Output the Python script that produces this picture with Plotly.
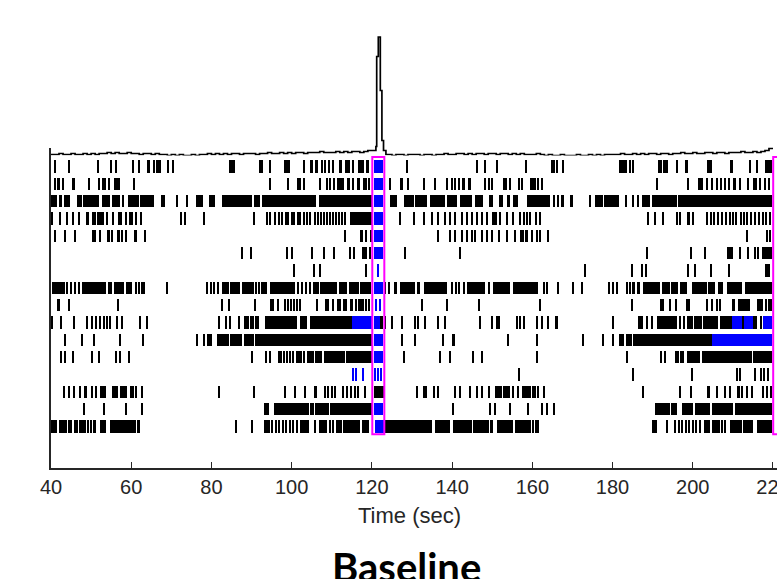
import plotly.graph_objects as go

# ---------------- raster data (seconds); number = single spike, (a, b) = burst ----------------
row01 = [41.1, 44.6, 51.7, 55.0, 56.3, 60.4, 62.0, (64.0, 64.6), 65.6, (66.3, 67.4), 69.2, 70.3,
         (84.3, 85.8), (91.9, 92.8), 94.7, (98.0, 99.5), 103.0, (104.6, 105.3), (105.9, 106.5), 107.6,
         108.4, 109.2, (110.1, 110.6), (111.7, 112.5), (113.4, 114.6), 115.4, 116.7, 117.3, 117.9,
         (118.6, 119.2), 128.7, 146.2, 148.2, 151.3, 158.4, (164.6, 165.7), 166.1, (167.4, 168.0),
         (181.5, 183.6), 184.4, 185.2, (191.4, 192.3), (192.7, 193.9), 196.0, (198.1, 198.9),
         (203.5, 204.7), (209.3, 210.1), 214.2, 216.1, (218.0, 219.7)]
row02 = [41.1, 41.9, 43.0, (45.3, 45.9), 49.4, 51.9, (52.8, 53.6), 54.4, (55.8, 57.1), 60.6, 94.7,
         99.2, (101.3, 102.3), 103.0, (106.7, 107.3), 108.8, 109.6, 110.5, (111.3, 112.5), 112.9,
         (113.8, 114.6), (115.0, 115.6), (116.4, 117.1), (117.8, 118.8), 119.2, 124.6, (127.1, 127.7),
         129.1, 132.9, 135.8, 138.7, 139.9, 140.8, 141.6, (142.4, 143.2), (144.0, 144.6), 148.2, 149.1,
         149.9, (152.7, 153.7), 154.5, 156.8, 157.4, (159.5, 160.3), 160.7, 161.5, 162.4, 191.0, 198.9,
         (201.4, 202.5), 203.5, 204.7, 206.0, 207.0, 208.0, 209.1, (210.0, 210.9), 211.8, 213.8,
         (215.1, 216.1), 216.8, 218.0, 219.1]
row03 = [(40.0, 41.4), (41.9, 42.8), (43.2, 44.7), (46.4, 47.8), (48.0, 51.9), (52.8, 54.8),
         (55.2, 57.3), (57.6, 58.3), (59.1, 61.9), (62.1, 65.6), (67.3, 68.5), 71.4, 73.9, (76.2, 77.9),
         (79.3, 81.0), (82.7, 90.1), (90.5, 92.2), (92.6, 106.1), (106.7, 120.0), (124.6, 126.2),
         (127.9, 130.4), (130.8, 133.7), (134.6, 138.3), (138.7, 141.2), (142.0, 144.9), (145.8, 147.8),
         (149.1, 150.3), (151.6, 152.8), (153.6, 154.5), (155.3, 156.5), (158.6, 164.3), 165.4, 166.5,
         167.6, (169.5, 170.1), 174.4, (175.6, 177.6), (177.8, 181.7), (183.1, 183.7), 185.2, 186.3,
         (187.3, 189.4), (189.8, 196.0), (196.4, 219.7)]
row04 = [40.3, 42.2, 43.9, 45.4, (46.9, 47.3), (48.6, 49.4), (50.3, 51.1), (51.5, 51.9), (52.2, 52.6),
         (52.8, 53.3), 54.0, 55.5, 56.9, 57.5, 58.8, 59.6, 60.2, (61.0, 61.5), 62.5, 72.4, 73.4, 78.1,
         90.5, 93.9, 94.6, (95.5, 96.2), (96.6, 97.2), 97.7, 98.5, 99.2, 100.0, 100.7, 101.5, 102.2,
         103.0, 103.7, 104.5, 105.9, 106.6, 107.4, 108.1, 108.9, 109.6, 110.4, 111.1, 111.9, 112.6,
         113.4, (114.6, 120.0), 127.1, 130.4, 132.9, 135.0, 136.6, 138.3, 139.5, 140.8, 142.4, 143.7,
         144.9, 146.2, 147.4, 148.7, (149.9, 151.2), 152.0, 153.7, 155.3, 157.0, 157.8, 158.6, 159.4,
         160.8, 162.0, 188.9, 190.6, 192.6, 196.0, 196.8, (198.5, 199.4), 200.0, 203.5, 204.5, 205.4,
         206.3, 207.2, 208.2, 209.2, 210.0, 210.9, 211.9, 212.8, 213.6, 214.6, 215.5, 216.5, 217.4,
         218.3, 219.2]
row05 = [41.1, 43.6, 46.1, (50.3, 51.1), 52.3, (54.0, 54.6), 55.2, (56.5, 57.1), 57.7, 58.6,
         (60.6, 61.5), 63.5, 113.4, (117.1, 117.8), (118.2, 118.8), (119.6, 120.0), 136.6, 139.5, 140.8,
         142.4, 143.7, 144.9, 145.8, 147.4, 148.7, 149.9, 151.6, 153.7, 155.7, (157.0, 157.8),
         (158.2, 159.0), 159.9, 161.1, 161.9, 164.0, 213.4, 218.4, 219.2]
row06 = [87.6, 89.9, 98.8, 100.1, 105.1, 108.0, 110.6, 114.6, 115.6, (117.5, 118.8), 119.6, 128.3,
         142.0, 188.5, 199.5, 203.0, (208.5, 210.1), 211.8, 213.8, 215.6, 216.3, (217.2, 219.7)]
row07 = [100.5, 105.5, 107.0, 118.6, 173.2, 184.8, 187.3, 188.3, 198.9, 200.6, 204.5, 209.1,
         (218.0, 219.2)]
row08 = [(40.3, 43.6), 44.1, 45.1, 46.1, 47.0, (47.8, 49.1), (49.3, 50.6), (50.8, 52.1), (52.3, 53.8),
         (54.3, 55.3), (55.6, 56.6), (56.8, 58.1), (58.6, 60.2), 61.3, 62.0, (62.5, 63.5), 68.8, 79.0,
         79.9, 80.7, 81.7, (82.7, 84.3), (84.7, 86.0), (86.2, 87.2), (87.6, 90.5), 91.0, 91.8, (92.4, 93.9),
         (94.7, 100.9), 101.7, 102.6, 103.6, 104.6, 105.5, (105.9, 106.7), (107.1, 111.3), (111.7, 113.8),
         (114.2, 116.7), (117.1, 119.7), 123.2, 124.3, (125.4, 126.2), (127.1, 130.8), (131.2, 132.0),
         (132.9, 138.7), 140.0, 140.9, 141.8, 142.9, (143.7, 148.2), 149.1, (150.3, 154.5),
         (155.3, 160.8), 161.2, 163.0, 163.6, 166.5, 170.2, 172.3, 179.2, 180.2, 181.0, 183.5, 184.3,
         (184.9, 185.6), (186.0, 186.8), (187.7, 191.8), (192.3, 194.2), (194.6, 196.4), (196.8, 198.5),
         (199.7, 203.5), (203.9, 205.6), (206.4, 207.6), (208.5, 212.2), (213.0, 219.7)]
row09 = [41.9, 44.4, 56.6, 82.7, 84.3, 90.9, (94.7, 95.5), 96.7, 98.4, 99.2, 99.9, 100.7, 101.4, 102.2,
         106.3, (108.4, 109.3), 110.3, (111.3, 112.4), (112.7, 113.8), (114.6, 115.4), 116.1, 116.7,
         117.3, 117.9, 118.6, 119.2, 132.5, 138.7, 146.6, 161.9, 184.8, 192.0, 192.6, 194.4, 195.7,
         198.5, 199.1, 203.5, 204.7, 206.0, 206.8, (209.7, 210.5), (211.4, 214.2), (215.9, 217.6),
         218.3, 219.0, 219.5]
row10 = [40.3, 42.5, 45.7, 49.0, 50.3, 51.3, 52.2, 53.1, 54.0, 54.8, (56.1, 56.8), 57.7, 62.3, 64.0,
         81.8, (83.5, 84.0), 84.6, 86.8, (88.0, 89.3), (89.7, 90.6), (90.9, 91.8), (93.4, 101.3),
         (102.2, 103.8), (104.6, 115.0), (122.0, 122.7), 123.3, 125.0, 127.5, 130.8, 131.6, 133.3, 136.6,
         138.3, 147.0, 149.9, (150.9, 152.0), 156.1, 157.0, 157.8, 161.1, 162.4, 163.9, (165.7, 166.5),
         180.2, (186.4, 187.7), 188.5, 189.9, (191.0, 196.0), 196.8, 197.7, (198.6, 200.1), (200.4, 202.2),
         (202.6, 206.4), (206.8, 209.7), 212.5, (215.1, 216.1), 216.9]
row11 = [43.4, 47.8, 50.7, 57.1, 62.9, 76.4, 78.1, (78.9, 80.2), (81.4, 84.3), (84.7, 87.6), (88.0, 90.5),
         (90.9, 120.0), 127.5, 130.8, 137.8, (139.9, 140.8), 154.0, 161.1, 172.7, 177.7, 180.2,
         (181.5, 182.9), (183.3, 184.8), (185.2, 204.7)]
row12 = [42.4, 43.6, 45.4, 50.3, 51.9, 56.1, 57.3, 59.4, 90.1, 93.6, 94.5, 96.8, 97.4, 98.2, 98.9, 99.6,
         100.4, (101.0, 102.6), 103.0, (103.8, 105.5), (105.9, 107.6), (108.0, 113.2), (113.5, 120.0),
         127.9, 137.1, 139.5, 145.3, 147.4, 161.1, 183.5, 192.1, 193.0, (195.6, 196.5), (196.8, 197.7),
         (198.5, 201.8), (202.2, 214.7), (215.1, 219.7)]
row13 = [156.7, 185.2, 199.7, 211.0, 211.8, 215.5, 216.9, 217.8, 218.8]
row14 = [43.2, 44.4, 45.7, 47.2, 48.6, 50.3, 51.2, (52.1, 53.6), (55.2, 56.8), (57.1, 59.0), (59.8, 60.6),
         61.1, 62.7, 81.8, 90.5, 98.4, 100.9, 103.4, (105.5, 106.3), 108.4, 109.1, 110.0, 110.9, 112.9,
         113.9, 114.9, 115.9, 116.6, 118.4, (120.5, 123.3), 131.2, 132.9, 133.6, 135.4, 136.6, 140.8,
         142.0, 144.5, 146.2, 147.4, 149.1, (150.7, 152.5), (152.8, 154.5), 155.3, 156.4, (157.4, 159.6),
         (159.9, 161.0), 161.5, 162.8, 187.7, 196.8, 199.5, (203.5, 204.3), 206.0, 208.0, 209.3, 211.4,
         212.2, 213.5, 214.8, 217.6, 218.6, 219.5]
row15 = [48.2, 53.2, 58.6, 62.7, (93.0, 94.3), (95.5, 104.2), (104.6, 105.5), (105.9, 109.2),
         (109.6, 120.0), 140.3, 149.5, 150.7, 154.5, 159.0, 162.4, 163.6, 165.3, (190.7, 192.5),
         (192.7, 194.2), (194.5, 196.0), (197.2, 200.1), (200.6, 204.3), (204.7, 210.1), (210.5, 219.7)]
row16 = [(40.0, 41.5), (41.9, 44.0), 44.5, 45.1, 45.9, 46.5, (46.9, 48.6), 49.2, 49.9, (50.4, 51.1),
         (52.3, 53.6), (54.6, 61.1), (61.5, 62.3), 86.0, 90.1, (93.0, 94.7), 95.2, 96.1, 96.9, 97.8, 98.7,
         99.5, 100.4, 101.3, (102.2, 104.2), 105.9, (106.8, 108.8), 109.6, 110.4, (111.1, 112.5),
         (112.9, 117.1), (117.5, 119.2), (123.3, 134.9), (135.8, 139.5), (140.3, 144.9), (145.3, 149.1),
         (149.5, 150.3), (151.2, 155.3), (155.7, 159.7), (160.0, 160.4), (160.7, 161.6), (189.8, 191.0),
         193.5, 195.6, 196.5, 197.4, 198.3, 199.1, 200.0, 200.9, 201.8, (202.7, 204.3), (204.7, 206.8),
         207.4, 208.0, (209.3, 212.2), (212.6, 215.1), (215.9, 219.7)]

raster_black = [row01, row02, row03, row04, row05, row06, row07, row08,
                row09, row10, row11, row12, row13, row14, row15, row16]

# highlighted (blue) spikes per row (row number -> spikes)
raster_blue = {
    1: [(120.5, 122.8)], 2: [(120.5, 122.8)], 3: [(120.5, 122.8)], 4: [(120.5, 122.8)],
    5: [(120.5, 122.8)], 6: [(120.5, 122.8)], 7: [121.5], 8: [(120.5, 122.8)],
    9: [(120.7, 121.3), 122.1],
    10: [(115.0, 120.0), (120.5, 122.0), (209.7, 212.2), (212.8, 215.1), (217.6, 219.7)],
    11: [(120.5, 122.8), (204.7, 219.7)], 12: [(120.5, 122.8)],
    13: [115.4, 116.1, 117.8, 120.8, 121.5, 122.3],
    15: [(120.5, 122.8)], 16: [(120.8, 122.9)],
}

# ---------------- population histogram above the raster ----------------
psth_pre = [1, 1, 2, 1, 1, 2, 1, 1, 2, 1,
            2, 1, 2, 2, 3, 2, 3, 2, 2, 3,
            2, 2, 1, 2, 2, 1, 2, 1, 1, 0,
            1, 0, 1, 0, 0, 1, 0, 1, 1, 2,
            1, 2, 1, 2, 1, 2, 2, 1, 2, 2,
            2, 1, 2, 2, 3, 2, 2, 3, 2, 3,
            2, 3, 3, 2, 3, 3, 3, 4, 3, 3,
            3, 4, 3, 4, 3, 4, 4, 3, 4, 5,
            5]                                   # bins starting 40 .. 120 s
peak_t = [121.0, 121.2, 121.6, 122.1, 122.5, 122.9, 123.5]
peak_v = [9, 99, 118.5, 65, 15, 5, 1]
psth_post = [1, 0, 1, 1, 0, 1,
             1, 1, 0, 1, 1, 0, 1, 1, 2, 1,
             1, 2, 2, 1, 2, 1, 2, 2, 1, 2,
             2, 1, 2, 2, 1, 2, 1, 2, 1, 1,
             1, 2, 1, 0, 1, 0, 0, 1, 0, 0,
             0, 1, 0, 0, 1, 0, 1, 0, 1, 1,
             1, 1, 2, 1, 1, 2, 1, 2, 1, 2,
             2, 1, 2, 2, 1, 2, 2, 3, 2, 2,
             3, 2, 2, 3, 3, 2, 3, 3, 2, 3,
             3, 3, 4, 3, 3, 4, 3, 4, 5, 7]       # bins starting 124 .. 219 s

x_ticks = [40, 60, 80, 100, 120, 140, 160, 180, 200, 220]
window_start, window_end = 120.1, 123.1
next_window_start = 220.05
x_label = "Time (sec)"
title_text = "Baseline"

# ---------------- build traces ----------------
TICK = 0.5


def to_bars(rows_items):
    ys, bases, widths = [], [], []
    for r, items in rows_items:
        for it in items:
            if isinstance(it, tuple):
                a, b = it
            else:
                a, b = it - TICK / 2, it + TICK / 2
            ys.append(r)
            bases.append(a)
            widths.append(b - a)
    return ys, bases, widths


by, bb, bw = to_bars([(i + 1, row) for i, row in enumerate(raster_black)])
uy, ub, uw = to_bars(sorted(raster_blue.items()))

psth_t = list(range(40, 121)) + peak_t + list(range(124, 220)) + [220]
psth_v = psth_pre + peak_v + psth_post + [psth_post[-1]]

fig = go.Figure()
fig.add_trace(go.Bar(y=by, x=bw, base=bb, orientation="h", width=0.72,
                     marker=dict(color="#000000", line=dict(width=0)),
                     xaxis="x", yaxis="y", hoverinfo="skip"))
fig.add_trace(go.Bar(y=uy, x=uw, base=ub, orientation="h", width=0.72,
                     marker=dict(color="#0000ff", line=dict(width=0)),
                     xaxis="x", yaxis="y", hoverinfo="skip"))
fig.add_trace(go.Scatter(x=psth_t, y=psth_v, mode="lines", line=dict(color="#000000", width=1.7, shape="hv"),
                         xaxis="x", yaxis="y2", hoverinfo="skip"))

mag = dict(color="#ff00ff", width=2)
fig.add_shape(type="rect", xref="x", yref="y", x0=window_start, x1=window_end, y0=0.45, y1=16.45, line=mag)
fig.add_shape(type="rect", xref="x", yref="y", x0=next_window_start, x1=224, y0=0.45, y1=16.45, line=mag)

fig.add_annotation(text=x_label, xref="paper", yref="paper", x=0.4938, y=-0.1071,
                   showarrow=False, xanchor="center", yanchor="middle",
                   font=dict(family="Liberation Sans, Arial", size=22, color="#262626"))
fig.add_annotation(text="<b>" + title_text + "</b>", xref="paper", yref="paper", x=0.4897, y=-0.222,
                   showarrow=False, xanchor="center", yanchor="middle",
                   font=dict(family="Lato, Open Sans", size=40, color="#000000"))

fig.update_layout(
    width=777, height=579,
    margin=dict(l=51, r=0, t=20, b=111),
    paper_bgcolor="white", plot_bgcolor="white",
    showlegend=False, barmode="overlay", bargap=0,
    xaxis=dict(range=[40, 221], tickvals=x_ticks, ticktext=[str(v) for v in x_ticks],
               ticks="inside", ticklen=6, tickwidth=1.3, tickcolor="#262626",
               showline=True, linecolor="#262626", linewidth=1.5,
               showgrid=False, zeroline=False, anchor="y", automargin=False,
               ticklabeloverflow="allow",
               tickfont=dict(family="Liberation Sans, Arial", size=20, color="#262626")),
    yaxis=dict(domain=[0, 0.7143], range=[18.39, -0.067], showline=True, linecolor="#262626",
               linewidth=1.5, ticks="", showticklabels=False, showgrid=False, zeroline=False,
               anchor="x", automargin=False),
    yaxis2=dict(domain=[0.6975, 1], range=[0, 135.5], visible=False, anchor="x",
                showgrid=False, zeroline=False),
)

fig.write_html("out.html", config={"displayModeBar": False},
               post_script="document.body.style.margin='0';")
